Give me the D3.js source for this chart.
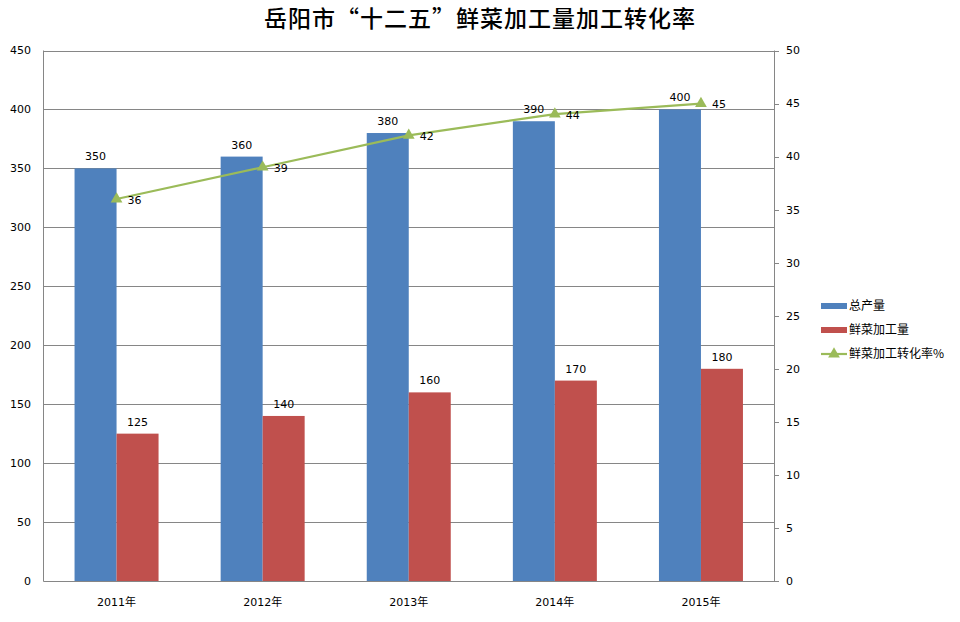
<!DOCTYPE html>
<html><head><meta charset="utf-8">
<script src="https://cdn.jsdelivr.net/npm/d3@7"></script>
<style>body{margin:0;background:#fff;} text{font-family:"DejaVu Sans","Noto Sans CJK SC",sans-serif;}</style>
</head><body>
<svg id="c" width="960" height="622"></svg>
<script>
const categories = ["2011年","2012年","2013年","2014年","2015年"];
const totalOutput = [350,360,380,390,400];
const processed = [125,140,160,170,180];
const rate = [36,39,42,44,45];
const leftTicks = [0,50,100,150,200,250,300,350,400,450];
const rightTicks = [0,5,10,15,20,25,30,35,40,45,50];
const seriesNames = ["总产量","鲜菜加工量","鲜菜加工转化率%"];
const title = "岳阳市“十二五”鲜菜加工量加工转化率";

const svg = d3.select("#c");
const L = 43.5, R = 774, T = 50.5, B = 581;
const x = d3.scaleBand().domain(categories).range([L, R]);
const yL = d3.scaleLinear().domain([0,450]).range([B, T]);
const yR = d3.scaleLinear().domain([0,50]).range([B, T]);
const bw = 42;

// gridlines
svg.append("g").selectAll("line").data(leftTicks).join("line")
  .attr("x1", L).attr("x2", R).attr("y1", d=>Math.round(yL(d))+0.5).attr("y2", d=>Math.round(yL(d))+0.5)
  .attr("stroke", "#868686").attr("stroke-width", 1);

// left axis labels
svg.append("g").selectAll("text").data(leftTicks).join("text")
  .attr("x", 31).attr("y", d=>yL(d)).attr("dy","0.35em").attr("text-anchor","end")
  .attr("font-size", 11).attr("fill","#000").text(d=>d);

// bars
const g = svg.append("g");
g.selectAll("rect.a").data(totalOutput).join("rect")
  .attr("x",(d,i)=>x(categories[i])+x.bandwidth()/2-bw).attr("width",bw)
  .attr("y",d=>yL(d)).attr("height",d=>B-yL(d)).attr("fill","#4F81BD");
g.selectAll("rect.b").data(processed).join("rect")
  .attr("x",(d,i)=>x(categories[i])+x.bandwidth()/2).attr("width",bw)
  .attr("y",d=>yL(d)).attr("height",d=>B-yL(d)).attr("fill","#C0504D");

// axes lines
svg.append("line").attr("x1",L).attr("x2",L).attr("y1",T).attr("y2",B).attr("stroke","#868686");
svg.append("line").attr("x1",R+0.5).attr("x2",R+0.5).attr("y1",T).attr("y2",B).attr("stroke","#868686");
svg.append("line").attr("x1",L).attr("x2",R+5).attr("y1",B+0.5).attr("y2",B+0.5).attr("stroke","#868686");

// right axis
svg.append("g").selectAll("line").data(rightTicks).join("line")
  .attr("x1",R).attr("x2",R+5).attr("y1",d=>Math.round(yR(d))+0.5).attr("y2",d=>Math.round(yR(d))+0.5)
  .attr("stroke","#868686");
svg.append("g").selectAll("text").data(rightTicks).join("text")
  .attr("x", 786).attr("y", d=>yR(d)).attr("dy","0.35em").attr("text-anchor","start")
  .attr("font-size", 11).attr("fill","#000").text(d=>d);

// bar labels
svg.append("g").selectAll("text").data(totalOutput).join("text")
  .attr("x",(d,i)=>x(categories[i])+x.bandwidth()/2-bw/2).attr("y",d=>yL(d)-8)
  .attr("text-anchor","middle").attr("font-size",11).text(d=>d);
svg.append("g").selectAll("text").data(processed).join("text")
  .attr("x",(d,i)=>x(categories[i])+x.bandwidth()/2+bw/2).attr("y",d=>yL(d)-8)
  .attr("text-anchor","middle").attr("font-size",11).text(d=>d);

// line
const line = d3.line().x((d,i)=>x(categories[i])+x.bandwidth()/2).y(d=>yR(d));
svg.append("path").datum(rate).attr("d",line).attr("fill","none").attr("stroke","#9BBB59").attr("stroke-width",2.2);
const tri = d3.symbol().type(d3.symbolTriangle).size(60);
svg.append("g").selectAll("path").data(rate).join("path")
  .attr("d",tri).attr("transform",(d,i)=>`translate(${x(categories[i])+x.bandwidth()/2},${yR(d)})`)
  .attr("fill","#9BBB59");
svg.append("g").selectAll("text").data(rate).join("text")
  .attr("x",(d,i)=>x(categories[i])+x.bandwidth()/2+11).attr("y",d=>yR(d)+1).attr("dy","0.35em")
  .attr("font-size",11).text(d=>d);

// x labels
svg.append("g").selectAll("text").data(categories).join("text")
  .attr("x",d=>x(d)+x.bandwidth()/2).attr("y",602).attr("dy","0.35em")
  .attr("text-anchor","middle").attr("font-size",11).text(d=>d);

// title
svg.append("text").attr("x",480).attr("y",27).attr("text-anchor","middle")
  .attr("font-size",23).attr("font-weight",500).style("font-family","'Noto Sans CJK SC',sans-serif")
  .attr("letter-spacing", 1).text(title);

// legend
const lg = svg.append("g");
const ly = [306, 330, 354];
lg.append("rect").attr("x",821).attr("y",ly[0]-3).attr("width",26).attr("height",6).attr("fill","#4F81BD");
lg.append("rect").attr("x",821).attr("y",ly[1]-3).attr("width",26).attr("height",6).attr("fill","#C0504D");
lg.append("line").attr("x1",821).attr("x2",847).attr("y1",ly[2]).attr("y2",ly[2]).attr("stroke","#9BBB59").attr("stroke-width",2.2);
lg.append("path").attr("d",tri).attr("transform",`translate(834,${ly[2]})`).attr("fill","#9BBB59");
lg.selectAll("text").data(seriesNames).join("text")
  .attr("x",849).attr("y",(d,i)=>ly[i]).attr("dy","0.35em").attr("font-size",12)
  .style("font-family","'Noto Sans CJK SC',sans-serif").text(d=>d);
</script>
</body></html>
